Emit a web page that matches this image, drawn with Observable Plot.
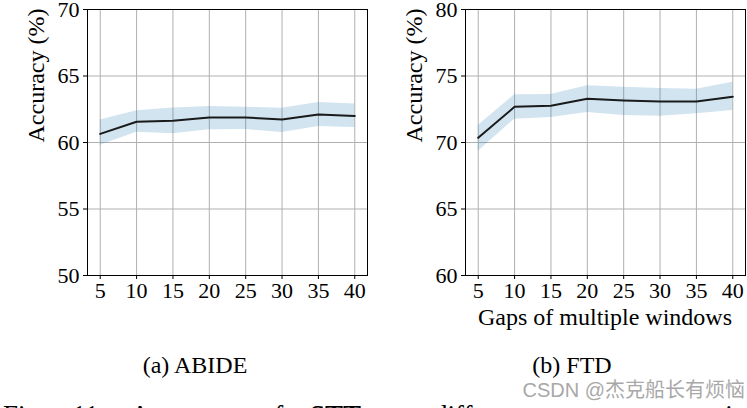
<!DOCTYPE html>
<html>
<head>
<meta charset="utf-8">
<script src="https://cdn.jsdelivr.net/npm/d3@7"></script>
<script src="https://cdn.jsdelivr.net/npm/@observablehq/plot@0.6"></script>
<style>
  html, body { margin: 0; padding: 0; background: #fff; }
  #wrap { position: relative; width: 747px; height: 408px; overflow: hidden; background: #fff;
          font-family: "Liberation Serif", "Times New Roman", serif; color: #000; }
  .abs { position: absolute; white-space: nowrap; }
  .cap { font-size: 24px; line-height: 24px; text-align: center; }
</style>
</head>
<body>
<div id="wrap">
  <div id="left" class="abs" style="left:0;top:0"></div>
  <div id="right" class="abs" style="left:375px;top:0"></div>
  <div class="abs cap" style="left:465px;width:280px;top:305px">Gaps of multiple windows</div>
  <div class="abs cap" style="left:95px;width:200px;top:353px">(a) ABIDE</div>
  <div class="abs cap" style="left:472px;width:200px;top:353px">(b) FTD</div>
  <div class="abs" style="left:3px;top:402px;font-size:27px;line-height:27px;word-spacing:20px">Fig. 11. Accuracy of <b>STT</b> at different parameter settings.</div>
  <div class="abs" style="right:2px;top:379px;font-family:'Liberation Sans','Noto Sans CJK SC',sans-serif;font-size:20px;line-height:22px;color:#a8a8a8;background:transparent">CSDN @杰克船长有烦恼</div>
</div>
<script>
// ---- data ----
const gaps = [5, 10, 15, 20, 25, 30, 35, 40];

const abideMean = [60.65, 61.56, 61.63, 61.88, 61.88, 61.73, 62.10, 62.00];
const abideLow  = [59.80, 60.77, 60.65, 60.95, 60.97, 60.75, 61.20, 61.13];
const abideHigh = [61.70, 62.38, 62.60, 62.70, 62.65, 62.58, 63.00, 62.90];

const ftdMean = [70.35, 72.68, 72.76, 73.29, 73.16, 73.08, 73.08, 73.44];
const ftdLow  = [69.35, 71.75, 71.88, 72.26, 72.03, 71.98, 72.16, 72.40];
const ftdHigh = [71.28, 73.59, 73.61, 74.26, 74.16, 74.06, 74.00, 74.53];

const xTicks = [5, 10, 15, 20, 25, 30, 35, 40];
const abideYTicks = [50, 55, 60, 65, 70];
const ftdYTicks = [60, 65, 70, 75, 80];
const yLabel = "Accuracy (%)";

function rows(mean, low, high) {
  return gaps.map((g, i) => ({gap: g, mean: mean[i], low: low[i], high: high[i]}));
}

function panel({data, yDomain, yTicks, width, marginLeft, marginRight}) {
  const grid = {stroke: "#b0b0b0", strokeOpacity: 1, strokeWidth: 1};
  return Plot.plot({
    width, height: 312,
    marginLeft, marginRight, marginTop: 9, marginBottom: 37,
    x: {domain: [3.25, 41.75]},
    y: {domain: yDomain},
    style: {fontFamily: "'Liberation Serif', 'Times New Roman', serif", fontSize: "22px", color: "#000", background: "transparent", overflow: "visible"},
    marks: [
      Plot.gridX(xTicks, grid),
      Plot.gridY(yTicks, grid),
      Plot.areaY(data, {x: "gap", y1: "low", y2: "high", fill: "#1f77b4", fillOpacity: 0.2}),
      Plot.lineY(data, {x: "gap", y: "mean", stroke: "#1a1a1a", strokeWidth: 2}),
      Plot.frame({stroke: "#000", strokeWidth: 1}),
      Plot.axisX(xTicks, {tickSize: 4, tickPadding: 3, label: null, fontSize: 22, stroke: "#000"}),
      Plot.axisY(yTicks, {tickSize: 4, tickPadding: 4, label: null, fontSize: 22, stroke: "#000"}),
      Plot.text([yLabel], {frameAnchor: "left", rotate: -90, dx: -51, lineAnchor: "middle", fontSize: 24, fill: "#000"})
    ]
  });
}

document.getElementById("left").appendChild(panel({
  data: rows(abideMean, abideLow, abideHigh), yDomain: [50, 70], yTicks: abideYTicks,
  width: 375, marginLeft: 87, marginRight: 8
}));
document.getElementById("right").appendChild(panel({
  data: rows(ftdMean, ftdLow, ftdHigh), yDomain: [60, 80], yTicks: ftdYTicks,
  width: 372, marginLeft: 90, marginRight: 2
}));
</script>
</body>
</html>
